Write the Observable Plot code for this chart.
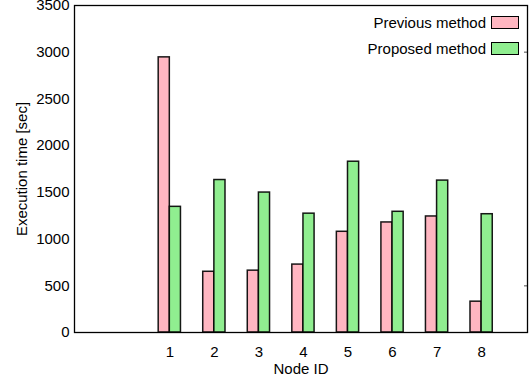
<!DOCTYPE html>
<html>
<head>
<meta charset="utf-8">
<script src="https://cdn.jsdelivr.net/npm/d3@7"></script>
<script src="https://cdn.jsdelivr.net/npm/@observablehq/plot@0.6"></script>
<style>
  html, body { margin: 0; padding: 0; background: #fff; }
  #wrap { position: relative; width: 531px; height: 381px; font-family: "Liberation Sans", Arial, sans-serif; }
  #legend { position: absolute; right: 12px; top: 9px; font-size: 15px; color: #000; }
  .row { display: flex; align-items: center; justify-content: flex-end; height: 26.5px; }
  .sw { width: 26px; height: 11px; border: 1.5px solid #000; margin-left: 5px; }
</style>
</head>
<body>
<div id="wrap"></div>
<script>
const nodes = [1, 2, 3, 4, 5, 6, 7, 8];
const previousMethod = [2945, 650, 662, 727, 1078, 1178, 1242, 330];
const proposedMethod = [1345, 1632, 1498, 1272, 1828, 1292, 1626, 1266];
const seriesNames = ["Previous method", "Proposed method"];
const seriesColors = ["#ffb6c1", "#90ee90"];
const yTicks = [0, 500, 1000, 1500, 2000, 2500, 3000, 3500];
const rightTicks = [500, 3000];

const barW = 0.25;
const rows = [];
nodes.forEach((n, i) => {
  rows.push({node: n, series: seriesNames[0], value: previousMethod[i], x1: n - barW, x2: n});
  rows.push({node: n, series: seriesNames[1], value: proposedMethod[i], x1: n, x2: n + barW});
});

const chart = Plot.plot({
  width: 531,
  height: 381,
  marginTop: 5,
  marginBottom: 49,
  marginLeft: 74,
  marginRight: 4,
  style: {fontFamily: "Liberation Sans, Arial, sans-serif", fontSize: "15px", color: "#000", background: "#fff"},
  x: {domain: [-1.14, 9.03], ticks: nodes, tickFormat: d3.format("d"), tickSize: 0, tickPadding: 14,
      label: "Node ID", labelArrow: "none", labelAnchor: "center", labelOffset: 41},
  y: {domain: [0, 3500]},
  color: {domain: seriesNames, range: seriesColors},
  marks: [
    Plot.rectY(rows, {x1: "x1", x2: "x2", y1: 0, y2: "value", fill: "series", stroke: "#000", strokeWidth: 1.5, strokeOpacity: 0.9}),
    Plot.axisY(yTicks, {anchor: "left", tickSize: 0, tickPadding: 5, tickFormat: d3.format("d"),
      label: "Execution time [sec]", labelArrow: "none", labelAnchor: "center", labelOffset: 58}),
    Plot.axisY(rightTicks, {anchor: "right", tickSize: -4, tickFormat: () => "", label: null, stroke: "#888", strokeWidth: 1.5}),
    Plot.frame({stroke: "#000", strokeWidth: 1.3})
  ]
});
document.getElementById("wrap").appendChild(chart);

const legend = document.createElement("div");
legend.id = "legend";
seriesNames.forEach((name, i) => {
  const row = document.createElement("div");
  row.className = "row";
  const t = document.createElement("span");
  t.textContent = name;
  const sw = document.createElement("span");
  sw.className = "sw";
  sw.style.background = seriesColors[i];
  row.appendChild(t);
  row.appendChild(sw);
  legend.appendChild(row);
});
document.getElementById("wrap").appendChild(legend);
</script>
</body>
</html>
